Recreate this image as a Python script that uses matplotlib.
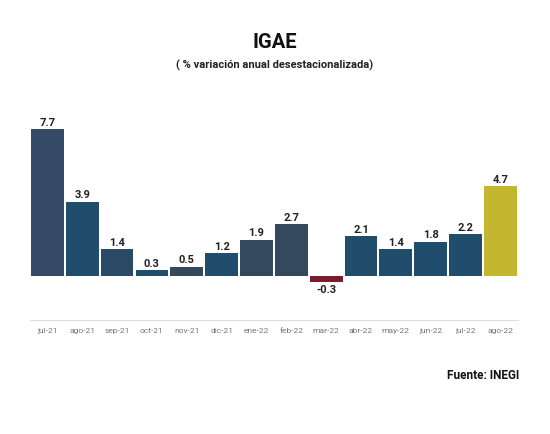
import matplotlib.pyplot as plt

plt.rcParams["font.family"] = ["Roboto", "DejaVu Sans"]

meses = ["jul-21", "ago-21", "sep-21", "oct-21", "nov-21", "dic-21", "ene-22",
         "feb-22", "mar-22", "abr-22", "may-22", "jun-22", "jul-22", "ago-22"]
valores = [7.7, 3.9, 1.4, 0.3, 0.5, 1.2, 1.9, 2.7, -0.3, 2.1, 1.4, 1.8, 2.2, 4.7]
colores = ["#354b65", "#1f4d6b", "#2a4a66", "#1f4d6b", "#34495e", "#1f4d6b", "#34495e",
           "#34495e", "#7a1c2c", "#1f4d6b", "#1f4d6b", "#1f4d6b", "#1f4d6b", "#c2b72f"]

fig = plt.figure(figsize=(5.5, 4.35), dpi=100)
ax = fig.add_axes([0.0545, 0.262, 0.887, 0.474])

x = range(len(meses))
ax.bar(x, valores, width=0.94, color=colores)
for i, v in zip(x, valores):
    if v >= 0:
        ax.text(i, v + 0.12, f"{v:.1f}", ha="center", va="bottom",
                fontsize=8, fontweight="bold", color="#222222")
    else:
        ax.text(i, v - 0.12, f"{v:.1f}", ha="center", va="top",
                fontsize=8, fontweight="bold", color="#222222")

ax.set_xlim(-0.5, len(meses) - 0.5)
ax.set_ylim(-2.3, 8.49)
ax.set_xticks(list(x))
ax.set_xticklabels(meses, fontsize=6, color="#777777")
ax.tick_params(axis="x", length=0, pad=5)
ax.set_yticks([])
for side in ["top", "right", "left"]:
    ax.spines[side].set_visible(False)
ax.spines["bottom"].set_color("#dddddd")
ax.spines["bottom"].set_linewidth(0.8)

fig.text(0.5, 1 - 42 / 435, "IGAE", ha="center", va="center",
         fontsize=14.5, fontweight="bold", color="#111111")
fig.text(0.5, 1 - 65 / 435, "( % variación anual desestacionalizada)", ha="center",
         va="center", fontsize=8, fontweight="bold", color="#222222")
fig.text(519 / 550, 1 - 376 / 435, "Fuente: INEGI", ha="right", va="center",
         fontsize=8.5, fontweight="bold", color="#111111")

fig.savefig("out.png", dpi=100)
